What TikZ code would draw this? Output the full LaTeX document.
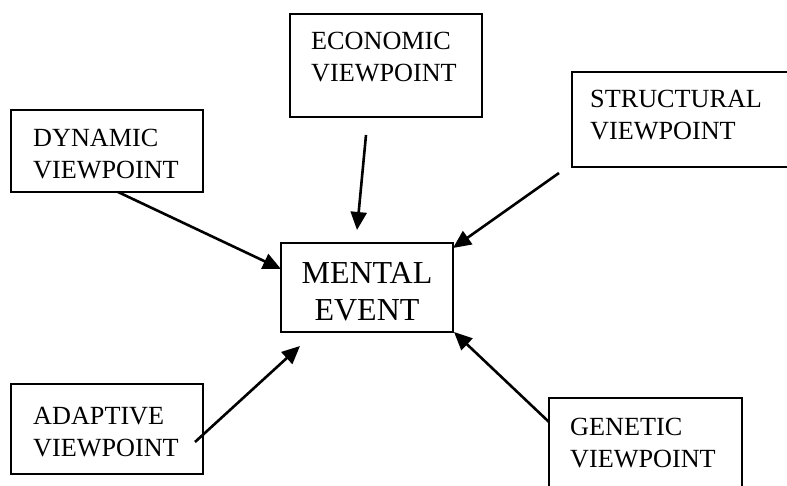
\documentclass[tikz,border=0pt]{standalone}
\usepackage{fontspec}
\setmainfont{Liberation Serif}
\usetikzlibrary{arrows.meta}

\begin{document}
\begin{tikzpicture}[x=1pt, y=-1pt]

	\tikzstyle{view_box}=[rectangle, draw=black, line width=1.9pt, inner sep=0pt, outer sep=0pt, anchor=north west]
	\tikzstyle{view_text}=[align=left, inner sep=0pt, anchor=north west, font=\fontsize{26.2}{32}\selectfont]
	\tikzstyle{event_text}=[align=center, inner sep=0pt, anchor=north, font=\fontsize{32}{37}\selectfont]
	\tikzstyle{view_arrow}=[-{Triangle[length=18pt, width=16pt]}, line width=2.6pt]

	\useasboundingbox (0,0) rectangle (787,486);
	\clip (0,0) rectangle (787,486);

	%Main nodes
	\node[view_box, minimum width=192pt, minimum height=103pt] at (290,14) (economic) {};
	\node[view_box, minimum width=192pt, minimum height=82pt] at (11,110) (dynamic) {};
	\node[view_box, minimum width=232pt, minimum height=95pt] at (572,72) (structural) {};
	\node[view_box, minimum width=172pt, minimum height=89pt] at (281,243) (mental) {};
	\node[view_box, minimum width=192pt, minimum height=90pt] at (11,384) (adaptive) {};
	\node[view_box, minimum width=193pt, minimum height=110pt] at (549,398) (genetic) {};

	% Text nodes
	\node[view_text] at (311,32.4) (economic_text) {ECONOMIC\\VIEWPOINT};
	\node[view_text] at (33,129.4) (dynamic_text) {DYNAMIC\\VIEWPOINT};
	\node[view_text] at (590,90.4) (structural_text) {STRUCTURAL\\VIEWPOINT};
	\node[event_text] at (367,261.8) (mental_text) {MENTAL\\EVENT};
	\node[view_text] at (33,407.4) (adaptive_text) {ADAPTIVE\\VIEWPOINT};
	\node[view_text] at (570,418.4) (genetic_text) {GENETIC\\VIEWPOINT};

	\coordinate (economic_tail) at (366,135);
	\coordinate (economic_head) at (357,230);
	\coordinate (structural_tail) at (559,173);
	\coordinate (adaptive_tail) at (195,442);
	\coordinate (adaptive_head) at (300,346);

	% Connections
	\draw[view_arrow] (economic_tail) -- (economic_head);
	\draw[view_arrow] ([xshift=11pt]dynamic.south) -- ([yshift=-26pt]mental.north west);
	\draw[view_arrow] (structural_tail) -- ([yshift=-5pt]mental.north east);
	\draw[view_arrow] (adaptive_tail) -- (adaptive_head);
	\draw[view_arrow] ([yshift=-24pt]genetic.north west) -- ([xshift=1pt]mental.south east);

\end{tikzpicture}
\end{document}
